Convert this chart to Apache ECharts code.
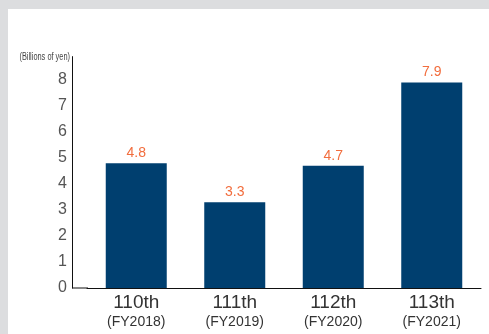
<!DOCTYPE html>
<html>
<head>
<meta charset="utf-8">
<script src="https://cdn.jsdelivr.net/npm/echarts@6/dist/echarts.min.js"></script>
<style>
html,body{margin:0;padding:0;background:#dcdddf;width:489px;height:334px;overflow:hidden;}
#panel{position:absolute;left:8px;top:9px;right:0;bottom:0;background:#fff;}
#chart{position:absolute;left:0;top:0;width:489px;height:334px;}
</style>
</head>
<body>
<div id="panel"></div>
<div id="chart"></div>
<script>
const terms = ['110th', '111th', '112th', '113th'];
const fiscalYears = ['(FY2018)', '(FY2019)', '(FY2020)', '(FY2021)'];
const values = [4.8, 3.3, 4.7, 7.9];
const unitLabel = '(Billions of yen)';

const chart = echarts.init(document.getElementById('chart'), null, {renderer: 'canvas'});
const FONT = '"Liberation Sans", Arial, sans-serif';
chart.setOption({
  animation: false,
  grid: {left: 87, right: 8, top: 56.6, bottom: 46, containLabel: false},
  xAxis: {
    type: 'category',
    data: terms.map((t, i) => t + '|' + fiscalYears[i]),
    axisLine: {show: true, lineStyle: {color: '#111', width: 1}},
    axisTick: {show: false},
    axisLabel: {
      margin: 5,
      formatter: function (v) {
        const p = v.split('|');
        return '{a|' + p[0] + '}\n{b|' + p[1] + '}';
      },
      rich: {
        a: {fontFamily: FONT, fontSize: 19, color: '#333', lineHeight: 20},
        b: {fontFamily: FONT, fontSize: 14, color: '#333', lineHeight: 18}
      }
    }
  },
  yAxis: {
    type: 'value',
    min: 0,
    max: 8.9,
    interval: 1,
    offset: 15,
    axisLine: {show: true, lineStyle: {color: '#111', width: 1}},
    axisTick: {show: false},
    splitLine: {show: false},
    axisLabel: {showMaxLabel: false, margin: 5, fontFamily: FONT, fontSize: 16, color: '#555'}
  },
  graphic: [{
    type: 'line',
    shape: {x1: 72, y1: 288, x2: 88, y2: 288},
    style: {stroke: '#111', lineWidth: 1}
  }, {
    type: 'text',
    x: 70, y: 57,
    scaleX: 0.74,
    style: {
      text: unitLabel, fontFamily: FONT, fontSize: 10, fill: '#444',
      align: 'right', verticalAlign: 'middle'
    }
  }],
  series: [{
    type: 'bar',
    data: values,
    barWidth: 61,
    itemStyle: {color: '#003f6f'},
    label: {
      show: true, position: 'top', distance: 3,
      fontFamily: FONT, fontSize: 14, color: '#f26d3d'
    }
  }]
});
</script>
</body>
</html>
